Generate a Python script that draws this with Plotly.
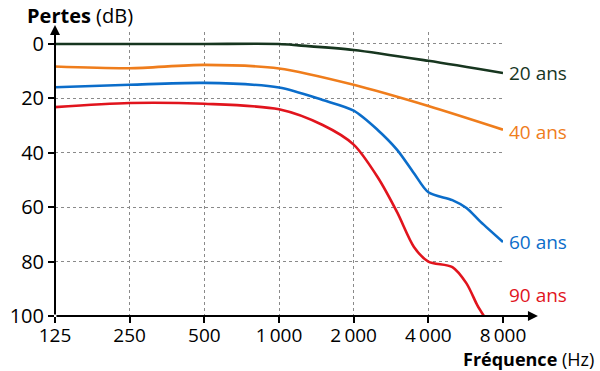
import plotly.graph_objects as go

# ---- data ----
freq_20 = [125, 250, 500, 1000, 1200, 2000, 4000, 8000]
loss_20 = [0, 0, 0, 0, 0.5, 2.2, 6.2, 10.7]

freq_40 = [125, 250, 500, 1000, 2000, 4000, 8000]
loss_40 = [8.3, 8.9, 7.7, 9.0, 15.0, 22.8, 31.5]

freq_60 = [125, 250, 500, 1000, 1500, 2000, 2500, 3000, 3500, 4000, 5000, 5700, 6500, 8000]
loss_60 = [15.9, 15.0, 14.3, 16.0, 20.6, 24.5, 31.6, 39.0, 47.5, 54.5, 57.4, 60.3, 65.4, 72.8]

freq_90 = [125, 250, 500, 1000, 1500, 2000, 2500, 3000, 3500, 4000, 5000, 5700, 6300, 6700]
loss_90 = [23.2, 21.7, 22.0, 24.0, 29.8, 37.0, 49.0, 62.0, 74.6, 80.0, 82.0, 88.0, 96.0, 100.0]

series = [
    ("20 ans", freq_20, loss_20, "#17361f", 10.7),
    ("40 ans", freq_40, loss_40, "#ef7d1c", 32.5),
    ("60 ans", freq_60, loss_60, "#0b6dca", 72.8),
    ("90 ans", freq_90, loss_90, "#e1141d", 92.3),
]

x_ticks = [125, 250, 500, 1000, 2000, 4000, 8000]
x_tick_labels = ["125", "250", "500", "1\u2009000", "2\u2009000", "4\u2009000", "8\u2009000"]
y_ticks = [0, 20, 40, 60, 80, 100]
y_tick_labels = ["0", "20", "40", "60", "80", "100"]

FONT = "Open Sans, sans-serif"

fig = go.Figure()
for name, fx, fy, col, ly in series:
    fig.add_trace(go.Scatter(x=fx, y=fy, mode="lines", name=name,
                             line=dict(color=col, width=2.6, shape="spline", smoothing=0.8),
                             hoverinfo="skip", showlegend=False))
    fig.add_annotation(x=3.9031, y=ly, xref="x", yref="y", text=name, showarrow=False,
                       xanchor="left", yanchor="middle", xshift=4,
                       font=dict(family=FONT, size=19, color=col))

# axes with arrows
fig.add_annotation(x=0, y=1.025, xref="paper", yref="paper", ax=0, ay=291, axref="pixel", ayref="pixel",
                   text="", showarrow=True, arrowhead=2, arrowsize=1, arrowwidth=2, arrowcolor="black")
fig.add_annotation(x=1.078, y=0, xref="paper", yref="paper", ax=-483, ay=0,
                   text="", showarrow=True, arrowhead=2, arrowsize=1, arrowwidth=2, arrowcolor="black")

fig.add_annotation(x=0, y=1.0, xref="paper", yref="paper", xshift=-30, yshift=17,
                   text="<b>Pertes</b> (dB)", showarrow=False, xanchor="left", yanchor="middle",
                   font=dict(family=FONT, size=20, color="black"))
fig.add_annotation(x=1.0, y=0, xref="paper", yref="paper", yshift=-43, xshift=93,
                   text="<b>Fréquence</b> (Hz)", showarrow=False, xanchor="right", yanchor="middle",
                   font=dict(family=FONT, size=18, color="black"))

fig.update_xaxes(type="log", range=[2.0969, 3.9031], tickvals=x_ticks, ticktext=x_tick_labels,
                 showgrid=True, gridcolor="#8a8a8a", griddash="dot", gridwidth=1,
                 ticks="outside", ticklen=6, tickwidth=1.5, tickcolor="black",
                 showline=False, zeroline=False, automargin=False, ticklabelstandoff=-4,
                 tickfont=dict(family=FONT, size=19, color="black"))
fig.update_yaxes(range=[100, -4.4], tickvals=y_ticks, ticktext=y_tick_labels,
                 showgrid=True, gridcolor="#8a8a8a", griddash="dot", gridwidth=1,
                 ticks="outside", ticklen=6, tickwidth=1.5, tickcolor="black",
                 showline=False, zeroline=False, automargin=False,
                 tickfont=dict(family=FONT, size=20, color="black"))

fig.update_layout(width=600, height=371, margin=dict(l=55, r=97, t=32, b=55),
                  paper_bgcolor="white", plot_bgcolor="white")

fig.write_html("out.html", config={"displayModeBar": False},
               post_script="document.body.style.margin='0';")
